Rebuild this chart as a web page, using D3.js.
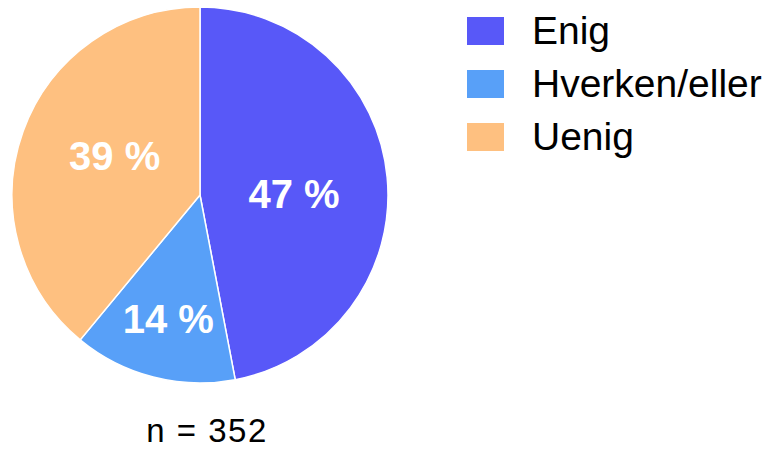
<!DOCTYPE html>
<html>
<head>
<meta charset="utf-8">
<script src="https://cdn.jsdelivr.net/npm/d3@7"></script>
<style>
  html, body { margin: 0; padding: 0; background: #fff; }
  #chart { width: 772px; height: 453px; }
  text { font-family: "Liberation Sans", Arial, sans-serif; }
</style>
</head>
<body>
<div id="chart"></div>
<script>
const categories = ["Enig", "Hverken/eller", "Uenig"];
const values = [47, 14, 39];
const colors = ["#5858f8", "#58a0f8", "#fec080"];
const sampleText = "n = 352";

const width = 772, height = 453;
const cx = 200, cy = 195, radius = 188;

const svg = d3.select("#chart")
    .append("svg")
    .attr("width", width)
    .attr("height", height);

const data = categories.map((c, i) => ({ name: c, value: values[i], color: colors[i] }));
const total = d3.sum(values);

const pie = d3.pie().sort(null).value(d => d.value);
const arc = d3.arc().innerRadius(0).outerRadius(radius);

const gPie = svg.append("g").attr("transform", `translate(${cx},${cy})`);

const arcs = pie(data);

gPie.selectAll("path")
    .data(arcs)
    .enter()
    .append("path")
    .attr("d", arc)
    .attr("fill", d => d.data.color)
    .attr("stroke", "#fff")
    .attr("stroke-width", 1.5);

// små sektorer: etiketten lenger ut, store: litt dreid
function labelPos(d) {
    const share = d.data.value / total;
    const small = share < 0.2;
    const r = radius * (small ? 0.68 : 0.5);
    const a = (d.startAngle + d.endAngle) / 2 + (small ? 0 : 5 * Math.PI / 180);
    return [r * Math.sin(a), -r * Math.cos(a)];
}

gPie.selectAll("text")
    .data(arcs)
    .enter()
    .append("text")
    .attr("transform", d => {
        const c = labelPos(d);
        return `translate(${c[0]},${c[1]})`;
    })
    .attr("text-anchor", "middle")
    .attr("dy", "0.35em")
    .attr("fill", "#fff")
    .style("font-size", "40px")
    .style("font-weight", "bold")
    .text(d => d.data.value + " %");

// legend
const legend = svg.append("g").attr("transform", "translate(467,17)");
const row = legend.selectAll("g")
    .data(data)
    .enter()
    .append("g")
    .attr("transform", (d, i) => `translate(0,${i * 53})`);

row.append("rect")
    .attr("width", 37)
    .attr("height", 28)
    .attr("fill", d => d.color);

row.append("text")
    .attr("x", 65)
    .attr("y", 27)
    .style("font-size", "39px")
    .attr("fill", "#000")
    .text(d => d.name);

svg.append("text")
    .attr("x", 207)
    .attr("y", 442)
    .attr("text-anchor", "middle")
    .style("font-size", "33px")
    .style("letter-spacing", "1.5px")
    .attr("fill", "#000")
    .text(sampleText);
</script>
</body>
</html>
